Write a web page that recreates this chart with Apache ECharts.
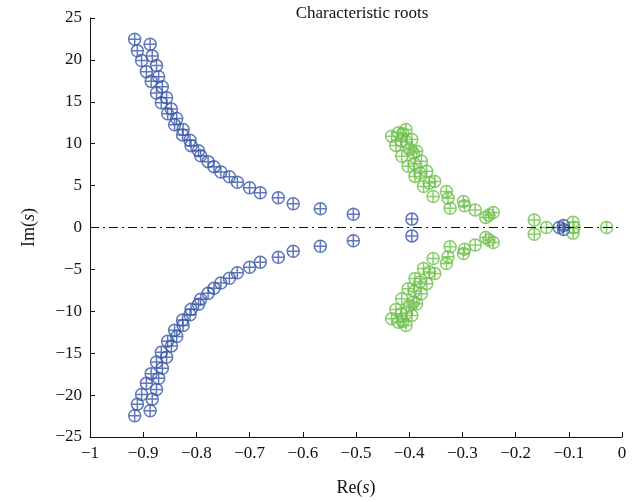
<!DOCTYPE html>
<html>
<head>
<meta charset="utf-8">
<script src="https://cdn.jsdelivr.net/npm/echarts@6/dist/echarts.min.js"></script>
<style>
  html, body { margin: 0; padding: 0; background: #fff; }
  #main { width: 643px; height: 502px; }
</style>
</head>
<body>
<div id="main"></div>
<script>
// roots, [Re, Im]
var bluePoints = [
  [-0.916, 22.47], [-0.887, 21.87], [-0.911, 21.08], [-0.883, 20.48], [-0.903, 19.92],
  [-0.875, 19.32], [-0.894, 18.60], [-0.871, 18.00], [-0.885, 17.44], [-0.864, 16.80],
  [-0.875, 16.05], [-0.856, 15.49], [-0.866, 14.89], [-0.847, 14.13], [-0.854, 13.57],
  [-0.837, 13.01], [-0.841, 12.25], [-0.825, 11.69], [-0.826, 11.05], [-0.812, 10.42],
  [-0.810, 9.77], [-0.796, 9.17], [-0.792, 8.57], [-0.778, 7.86], [-0.767, 7.26],
  [-0.754, 6.62], [-0.738, 6.06], [-0.723, 5.39], [-0.700, 4.75], [-0.680, 4.14],
  [-0.646, 3.54], [-0.618, 2.83], [-0.567, 2.23], [-0.505, 1.59],
  [-0.916, -22.47], [-0.887, -21.87], [-0.911, -21.08], [-0.883, -20.48], [-0.903, -19.92],
  [-0.875, -19.32], [-0.894, -18.60], [-0.871, -18.00], [-0.885, -17.44], [-0.864, -16.80],
  [-0.875, -16.05], [-0.856, -15.49], [-0.866, -14.89], [-0.847, -14.13], [-0.854, -13.57],
  [-0.837, -13.01], [-0.841, -12.25], [-0.825, -11.69], [-0.826, -11.05], [-0.812, -10.42],
  [-0.810, -9.77], [-0.796, -9.17], [-0.792, -8.57], [-0.778, -7.86], [-0.767, -7.26],
  [-0.754, -6.62], [-0.738, -6.06], [-0.723, -5.39], [-0.700, -4.75], [-0.680, -4.14],
  [-0.646, -3.54], [-0.618, -2.83], [-0.567, -2.23], [-0.505, -1.59],
  [-0.395, 1.0], [-0.395, -1.0], [-0.118, 0], [-0.110, 0.25], [-0.110, -0.25]
];

var greenPoints = [
  [-0.433, 10.9], [-0.420, 11.3], [-0.412, 11.2], [-0.406, 11.7], [-0.425, 9.8],
  [-0.415, 10.3], [-0.405, 10.2], [-0.395, 10.5], [-0.414, 8.5], [-0.400, 9.3],
  [-0.392, 8.9], [-0.386, 9.1], [-0.402, 7.3], [-0.390, 7.6], [-0.377, 7.9],
  [-0.389, 6.1], [-0.380, 6.5], [-0.367, 6.7], [-0.373, 4.9], [-0.362, 5.3],
  [-0.352, 5.5], [-0.355, 3.7], [-0.330, 4.3], [-0.327, 3.5], [-0.323, 2.3],
  [-0.298, 3.1], [-0.296, 2.6], [-0.276, 2.1], [-0.256, 1.2], [-0.250, 1.5], [-0.242, 1.8],
  [-0.433, -10.9], [-0.420, -11.3], [-0.412, -11.2], [-0.406, -11.7], [-0.425, -9.8],
  [-0.415, -10.3], [-0.405, -10.2], [-0.395, -10.5], [-0.414, -8.5], [-0.400, -9.3],
  [-0.392, -8.9], [-0.386, -9.1], [-0.402, -7.3], [-0.390, -7.6], [-0.377, -7.9],
  [-0.389, -6.1], [-0.380, -6.5], [-0.367, -6.7], [-0.373, -4.9], [-0.362, -5.3],
  [-0.352, -5.5], [-0.355, -3.7], [-0.330, -4.3], [-0.327, -3.5], [-0.323, -2.3],
  [-0.298, -3.1], [-0.296, -2.6], [-0.276, -2.1], [-0.256, -1.2], [-0.250, -1.5], [-0.242, -1.8],
  [-0.165, 0.9], [-0.165, -0.8], [-0.142, 0], [-0.092, 0.64], [-0.092, -0.67],
  [-0.090, 0], [-0.029, 0]
];

var xTicks = [-1, -0.9, -0.8, -0.7, -0.6, -0.5, -0.4, -0.3, -0.2, -0.1, 0];
var yTicks = [-25, -20, -15, -10, -5, 0, 5, 10, 15, 20, 25];

var font = 'Liberation Serif';
// circle with a plus inside
var rootSymbol = 'path://M0,-6A6,6,0,1,1,0,6A6,6,0,1,1,0,-6M-6,0L6,0M0,-6L0,6';

function minus(v) {
  return String(v).replace('-', '\u2212');
}

var nameStyle = {
  fontFamily: font, fontSize: 18, color: '#111',
  rich: {
    n: { fontFamily: font, fontSize: 18, color: '#111' },
    i: { fontFamily: font, fontSize: 18, fontStyle: 'italic', color: '#111' }
  }
};

var myChart = echarts.init(document.getElementById('main'));

var option = {
  backgroundColor: '#fff',
  animation: false,
  title: {
    text: 'Characteristic roots',
    left: 357,
    textAlign: 'center',
    top: 0,
    textStyle: { fontFamily: font, fontSize: 17, fontWeight: 'normal', color: '#111' }
  },
  grid: { left: 90, right: 21, top: 18, bottom: 65 },
  xAxis: {
    type: 'value',
    min: -1, max: 0, interval: 0.1,
    name: '{n|Re(}{i|s}{n|)}',
    nameLocation: 'middle',
    nameGap: 42,
    nameTextStyle: nameStyle,
    axisLine: { onZero: false, lineStyle: { color: '#111', width: 1 } },
    axisTick: { inside: true, length: 5, lineStyle: { color: '#111' } },
    axisLabel: {
      fontFamily: font, fontSize: 17, color: '#111', margin: 8,
      formatter: function (v) {
        var t = xTicks.find(function (k) { return Math.abs(k - v) < 1e-6; });
        return t === undefined ? '' : minus(t);
      }
    },
    splitLine: { show: false }
  },
  yAxis: {
    type: 'value',
    min: -25, max: 25, interval: 5,
    name: '{n|Im(}{i|s}{n|)}',
    nameLocation: 'middle',
    nameGap: 52,
    nameTextStyle: nameStyle,
    axisLine: { onZero: false, lineStyle: { color: '#111', width: 1 } },
    axisTick: { inside: true, length: 5, lineStyle: { color: '#111' } },
    axisLabel: {
      fontFamily: font, fontSize: 17, color: '#111', margin: 8,
      formatter: function (v) {
        var t = yTicks.find(function (k) { return Math.abs(k - v) < 1e-6; });
        return t === undefined ? '' : minus(t);
      }
    },
    splitLine: { show: false }
  },
  series: [
    {
      name: 'green',
      type: 'scatter',
      data: greenPoints,
      symbol: rootSymbol,
      symbolSize: 12,
      itemStyle: { color: 'rgba(0,0,0,0)', borderColor: '#6cbf45', borderWidth: 1.5 },
      markLine: {
        silent: true,
        symbol: 'none',
        label: { show: false },
        lineStyle: { color: '#111', width: 1, type: [9, 4, 2, 4] },
        data: [{ yAxis: 0 }]
      },
      z: 3
    },
    {
      name: 'blue',
      type: 'scatter',
      data: bluePoints,
      symbol: rootSymbol,
      symbolSize: 12,
      itemStyle: { color: 'rgba(0,0,0,0)', borderColor: '#3856a8', borderWidth: 1.5 },
      z: 4
    }
  ]
};

myChart.setOption(option);
</script>
</body>
</html>
